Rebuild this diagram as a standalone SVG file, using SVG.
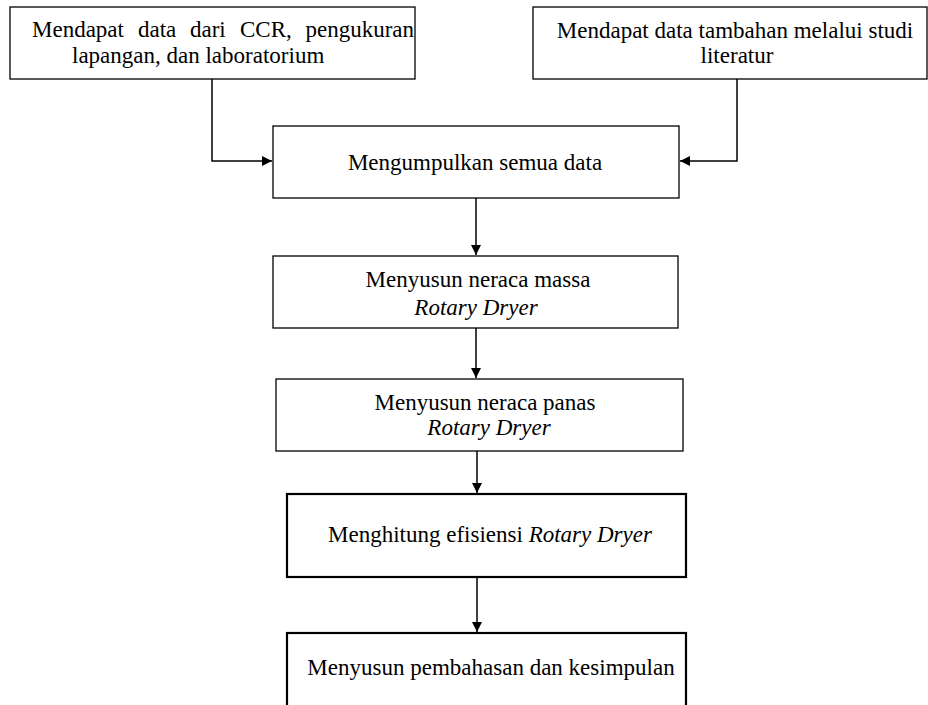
<svg xmlns="http://www.w3.org/2000/svg" width="928" height="705" viewBox="0 0 928 705">
<defs>
<style>
.box{fill:#fff;stroke:#000;stroke-width:1.3}
.box2{fill:#fff;stroke:#000;stroke-width:2.2}
.t{font-family:"Liberation Serif","Times New Roman",serif;font-size:23px;fill:#000}
.c{text-anchor:middle}
.i{font-style:italic}
.conn{fill:none;stroke:#000;stroke-width:1.5}
</style>
<marker id="ah" viewBox="0 0 10 10" refX="10" refY="5" markerWidth="10" markerHeight="10" markerUnits="userSpaceOnUse" orient="auto">
<path d="M0,0 L10,5 L0,10 Z" fill="#000"/>
</marker>
</defs>
<rect width="928" height="705" fill="#fff"/>
<g id="connectors">
<path class="conn" d="M212,79 V161 H272" marker-end="url(#ah)"/>
<path class="conn" d="M737,79 V161 H680" marker-end="url(#ah)"/>
<path class="conn" d="M476,198 V255" marker-end="url(#ah)"/>
<path class="conn" d="M476,328 V378" marker-end="url(#ah)"/>
<path class="conn" d="M477,451 V493" marker-end="url(#ah)"/>
<path class="conn" d="M477,577 V632" marker-end="url(#ah)"/>
</g>
<g id="n1">
<rect class="box" x="10" y="7" width="405" height="72"/>
<text class="t" y="37"><tspan x="32">Mendapat</tspan><tspan x="138">data</tspan><tspan x="190">dari</tspan><tspan x="240">CCR,</tspan><tspan x="305.5">pengukuran</tspan></text>
<text class="t" x="72" y="63">lapangan, dan laboratorium</text>
</g>
<g id="n2">
<rect class="box" x="533" y="7" width="394" height="72"/>
<text class="t c" x="735" y="38">Mendapat data tambahan melalui studi</text>
<text class="t c" x="737" y="63">literatur</text>
</g>
<g id="n3">
<rect class="box" x="273" y="126" width="406" height="72"/>
<text class="t c" x="475" y="170">Mengumpulkan semua data</text>
</g>
<g id="n4">
<rect class="box" x="273" y="256" width="405" height="72"/>
<text class="t c" x="478" y="287">Menyusun neraca massa</text>
<text class="t c i" x="476" y="315">Rotary Dryer</text>
</g>
<g id="n5">
<rect class="box" x="276" y="379" width="407" height="72"/>
<text class="t c" x="485" y="410">Menyusun neraca panas</text>
<text class="t c i" x="489" y="435">Rotary Dryer</text>
</g>
<g id="n6">
<rect class="box2" x="287" y="494" width="399" height="83"/>
<text class="t c" x="490" y="542">Menghitung efisiensi <tspan class="i">Rotary Dryer</tspan></text>
</g>
<g id="n7">
<rect class="box2" x="287" y="633" width="399" height="90"/>
<text class="t c" x="491" y="675">Menyusun pembahasan dan kesimpulan</text>
</g>
</svg>
